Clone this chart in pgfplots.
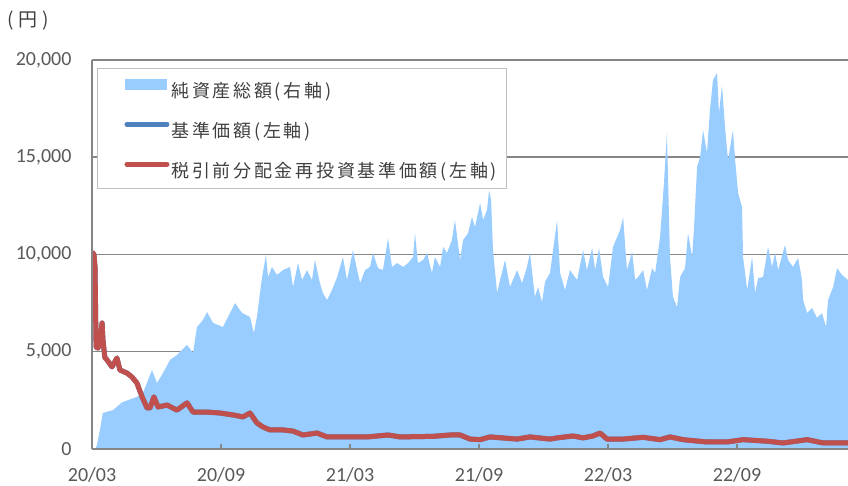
\documentclass[border=0pt]{standalone}
\usepackage{pgfplots}
\pgfplotsset{compat=1.18}
\usepackage{fontspec}
\setmainfont{Carlito}
\newfontfamily\cjk[LetterSpace=15]{Noto Sans CJK JP}
\newfontfamily\cjkwide[LetterSpace=25]{Noto Sans CJK JP}
\definecolor{areablue}{RGB}{153,204,255}
\definecolor{navred}{RGB}{192,80,77}
\definecolor{navblue}{RGB}{79,129,189}
\definecolor{gridgray}{RGB}{134,134,134}
\definecolor{tickgray}{RGB}{89,89,89}
\definecolor{legtext}{RGB}{64,64,64}
\definecolor{legframe}{RGB}{191,191,191}
\pgfplotsset{
  layers/gridbelow/.define layer set={axis background,axis grid,main,axis ticks,axis lines,axis tick labels,axis descriptions,axis foreground}{
    grid style={/pgfplots/on layer=axis grid},
    tick style={/pgfplots/on layer=axis ticks},
    axis line style={/pgfplots/on layer=axis lines},
    label style={/pgfplots/on layer=axis descriptions},
    legend style={/pgfplots/on layer=axis descriptions},
    title style={/pgfplots/on layer=axis descriptions},
    colorbar style={/pgfplots/on layer=axis descriptions},
    ticklabel style={/pgfplots/on layer=axis tick labels},
    axis background@ style={/pgfplots/on layer=axis background},
    3d box foreground style={/pgfplots/on layer=axis foreground},
  },
}
\pgfplotstableread{
m v
0 0
0.14 0
0.23 200
0.37 980
0.50 1850
0.98 2000
1.40 2400
2.09 2680
2.37 2880
2.79 4060
3.02 3390
3.30 3900
3.63 4580
3.95 4830
4.42 5350
4.70 4940
4.88 6270
5.16 6630
5.35 7040
5.63 6480
6.09 6270
6.65 7500
6.98 6990
7.35 6790
7.53 5960
7.67 6790
7.91 8840
8.09 9970
8.19 8840
8.37 9360
8.60 8950
8.88 9200
9.21 9360
9.35 8330
9.58 9560
9.77 8690
10.00 9200
10.23 8690
10.37 9720
10.60 8530
10.74 8020
10.93 7660
11.16 8170
11.40 8840
11.67 9870
11.86 8690
12.14 10230
12.33 9200
12.47 8530
12.70 9200
12.93 9360
13.07 10080
13.30 9300
13.53 9200
13.77 10850
13.95 9360
14.19 9560
14.47 9360
14.70 9560
14.93 9870
15.02 11100
15.16 9560
15.40 9720
15.58 10080
15.81 9050
15.95 9870
16.19 9360
16.33 10390
16.51 10080
16.74 10750
16.88 11770
17.12 9720
17.26 10750
17.49 11100
17.67 11930
17.81 11410
18.05 12650
18.19 11770
18.37 12290
18.47 13300
18.56 12800
18.65 10230
18.84 8020
18.98 8690
19.21 9720
19.44 8330
19.77 9200
20.00 8530
20.23 9360
20.37 10080
20.60 7810
20.74 8330
20.93 7550
21.07 8600
21.30 9050
21.63 11770
21.77 9050
22.00 8170
22.23 9200
22.56 8690
22.84 10230
23.02 9200
23.26 10330
23.40 9200
23.58 10330
23.77 8840
24.00 8330
24.23 10390
24.56 11260
24.70 11930
24.88 9200
25.12 10130
25.26 8690
25.40 8840
25.63 9200
25.81 8170
26.05 9300
26.19 9050
26.42 10900
26.60 13680
26.74 16250
26.88 9870
27.02 7810
27.21 7300
27.35 8840
27.58 9300
27.72 11100
27.91 9870
28.00 11410
28.14 14500
28.28 15010
28.42 16400
28.60 15220
28.74 17430
28.88 18970
29.07 19330
29.16 17270
29.30 18710
29.44 16560
29.58 14860
29.81 16400
29.91 14860
30.05 13160
30.23 12440
30.28 9870
30.47 8170
30.70 9870
30.84 8020
30.98 8790
31.21 8840
31.44 10390
31.63 9360
31.77 10080
31.91 9200
32.23 10490
32.37 9720
32.60 9360
32.84 9820
33.02 8690
33.07 7660
33.26 6990
33.49 7250
33.72 6740
33.95 6990
34.14 6270
34.23 7660
34.47 8330
34.65 9300
34.88 8950
35.16 8690
}\netassets
\pgfplotstableread{
m v
0 10130
0.09 10000
0.14 9360
0.19 5240
0.28 5190
0.37 5500
0.47 6480
0.51 5600
0.60 4700
0.70 4580
0.93 4220
1.16 4680
1.30 4060
1.63 3900
1.86 3700
2.09 3390
2.33 2680
2.56 2110
2.70 2110
2.88 2680
3.07 2160
3.49 2260
3.95 2000
4.42 2370
4.70 1900
5.35 1900
5.95 1850
6.56 1750
7.02 1650
7.35 1850
7.67 1340
7.95 1130
8.28 980
8.88 980
9.35 920
9.81 720
10.47 820
10.93 620
12.00 620
12.79 620
13.77 720
14.33 620
15.86 650
16.65 720
17.12 720
17.58 510
18.05 480
18.51 620
19.77 510
20.37 620
21.30 510
21.63 570
22.37 670
22.84 570
23.30 670
23.63 820
23.95 510
24.70 510
25.63 600
26.42 480
26.88 620
27.49 480
28.60 360
29.53 360
30.28 480
31.40 400
32.14 310
33.26 480
34.00 310
35.16 310
}\navdata
\begin{document}
\begin{tikzpicture}
\begin{axis}[
  set layers=gridbelow,
  at={(92pt,37pt)}, anchor=south west,
  scale only axis, width=756pt, height=389pt,
  xmin=0, xmax=35.16, ymin=0, ymax=20000,
  axis x line*=bottom, axis y line*=left,
  axis line style={gridgray, line width=1.5pt},
  ytick={0,5000,10000,15000,20000},
  ymajorgrids, grid style={gridgray, line width=1.5pt},
  xtick={0,6,12,18,24,30},
  xticklabels={20/03,20/09,21/03,21/09,22/03,22/09},
  xtick style={gridgray, line width=1.5pt},
  tick align=inside, major tick length=5pt,
  ytick style={draw=none},
  ticklabel style={font=\fontsize{20}{24}\selectfont, text=tickgray},
  yticklabel style={xshift=-17pt},
  xticklabel style={yshift=-15pt},
  /pgf/number format/assume math mode=true,
  /pgf/number format/1000 sep={,},
  scaled y ticks=false,
  legend cell align=left,
  legend style={at={(0.0066,0.9794)}, anchor=north west, draw=legframe, line width=1pt, fill=white,
    text=legtext, font=\cjk\fontsize{18}{20}\selectfont,
    inner xsep=8pt, inner ysep=10pt, row sep=23pt,
    nodes={inner xsep=2pt, inner ysep=0pt}},
]
\addplot[fill=areablue, draw=none,
  legend image code/.code={\path (0pt,0pt); \fill[areablue] (17pt,1pt) rectangle (59pt,12pt);}]
  table[x=m,y=v] {\netassets} \closedcycle;
\addlegendentry{純資産総額(右軸)}
\addplot[navblue, line width=5pt, line join=round,
  legend image code/.code={\path (0pt,0pt); \draw[navblue, line width=5pt, line cap=round] (19pt,6pt) -- (59pt,6pt);}]
  table[x=m,y=v] {\navdata};
\addlegendentry{基準価額(左軸)}
\addplot[navred, line width=5pt, line join=round,
  legend image code/.code={\path (0pt,0pt); \draw[navred, line width=5pt, line cap=round] (19pt,6pt) -- (59pt,6pt);}]
  table[x=m,y=v] {\navdata};
\addlegendentry{税引前分配金再投資基準価額(左軸)}
\end{axis}
\node[anchor=west, text=legtext, font=\cjkwide\fontsize{19}{21}\selectfont, inner sep=0pt] at (7pt,465.5pt) {(円)};
\pgfresetboundingbox
\useasboundingbox (0pt,0pt) rectangle (848pt,486pt);
\end{tikzpicture}
\end{document}
